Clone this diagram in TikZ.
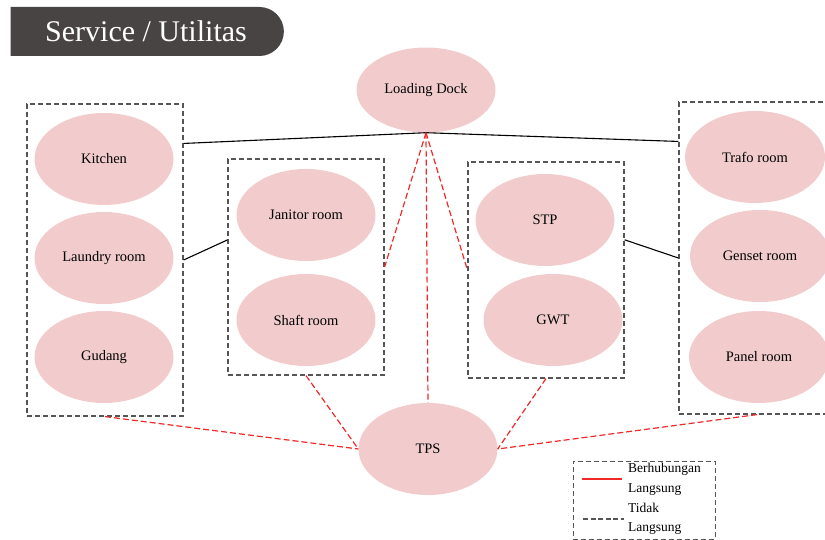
\documentclass[tikz,border=0pt]{standalone}
\usepackage{fontspec}
\setmainfont{Liberation Serif}
\usetikzlibrary{shapes.geometric,shapes.misc}
\definecolor{roompink}{RGB}{242,204,204}
\definecolor{titlegray}{RGB}{71,68,67}
\definecolor{boxgray}{RGB}{85,85,85}
\definecolor{linkred}{RGB}{240,40,40}

\begin{document}
\begin{tikzpicture}
[%%%%%%%%%%%%%%%%%%%%%%%%%%%%%%
x=1pt,y=-1pt,
room/.style={ellipse,fill=roompink,minimum width=139pt,minimum height=92pt,inner sep=0pt,
  font=\fontsize{14.5}{17}\selectfont},
group/.style={rectangle,draw=boxgray,line width=1.2pt,dash pattern=on 5pt off 3pt,
  minimum width=156pt,inner sep=0pt},
direct/.style={draw=linkred,line width=1.2pt,dash pattern=on 6pt off 3pt},
indirect/.style={draw=black,line width=1.1pt},
legendtext/.style={align=left,anchor=west,inner sep=0pt,
  font=\fontsize{13.5}{19.5}\selectfont},
]%%%%%%%%%%%%%%%%%%%%%%%%%%%%%%

\useasboundingbox (0,0) rectangle (825,540);
\clip (0,0) rectangle (825,540);

% title
\node[rounded rectangle,rounded rectangle left arc=none,fill=titlegray,
  minimum width=280pt,minimum height=49pt,text=white,
  font=\fontsize{30}{36}\selectfont] (title) at (146,31.5) {Service / Utilitas};

% groups
\node[group,minimum height=312pt] (lbox) at (105,260){};
\node[group,minimum height=216pt] (jbox) at (306,267){};
\node[group,minimum height=216pt] (sbox) at (546,270){};
\node[group,minimum height=312pt] (rbox) at (757,258){};

% rooms
\node[room,minimum height=85pt] (dock) at (426,90){Loading Dock};
\node[room] (kitchen) at (104,159){Kitchen};
\node[room] (laundry) at (104,258){Laundry room};
\node[room] (gudang) at (104,357){Gudang};
\node[room] (janitor) at (306,215){Janitor room};
\node[room] (shaft) at (306,320){Shaft room};
\node[room] (stp) at (545,220){STP};
\node[room] (gwt) at (553,320){GWT};
\node[room,minimum width=140pt] (trafo) at (755,157){Trafo room};
\node[room,minimum width=140pt] (genset) at (760,256){Genset room};
\node[room,minimum width=140pt] (panel) at (759,357){Panel room};
\node[room] (tps) at (428,449){TPS};

% links
\draw[indirect] (lbox.56.5) -- (dock.south) -- (rbox.124);
\draw[indirect] (lbox.east) -- (jbox.161.5);
\draw[indirect] (sbox.21) -- (rbox.west);

\draw[direct] (dock.south) -- (jbox.east);
\draw[direct] (dock.south) -- (sbox.west);
\draw[direct] (dock.south) -- (tps.north);
\draw[direct] (lbox.south) -- (tps.west);
\draw[direct] (jbox.south) -- (tps.west);
\draw[direct] (sbox.south) -- (tps.east);
\draw[direct] (rbox.south) -- (tps.east);

% legend
\node[group,minimum width=142pt,minimum height=78pt,line width=1pt] (legend) at (644,500){};
\coordinate (redA) at (582,479);
\coordinate (redB) at (622,479);
\coordinate (blkA) at (583,519);
\coordinate (blkB) at (624,519);
\draw[draw=linkred,line width=1.2pt] (redA) -- (redB);
\draw[draw=boxgray,line width=1.2pt,dash pattern=on 5pt off 2.5pt] (blkA) -- (blkB);
\node[legendtext] (lgdirect) at (628,479.5){Berhubungan\\Langsung};
\node[legendtext] (lgindirect) at (628,519){Tidak\\Langsung};
\end{tikzpicture}
\end{document}
